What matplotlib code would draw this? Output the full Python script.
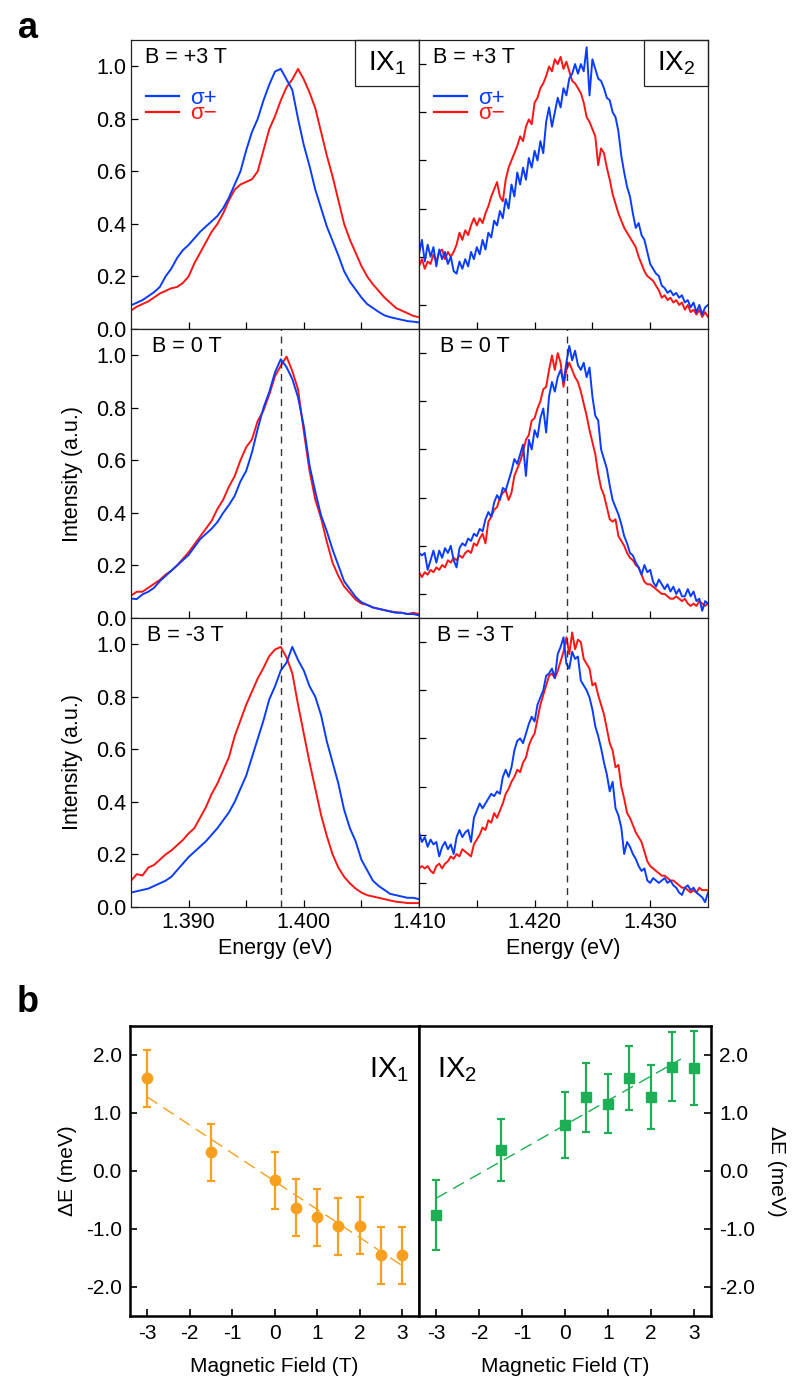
import matplotlib.pyplot as plt
import numpy as np
from matplotlib.patches import Rectangle

plt.rcParams["font.family"] = ["Liberation Sans", "DejaVu Sans"]
plt.rcParams["mathtext.fontset"] = "custom"
plt.rcParams["mathtext.rm"] = "Liberation Sans"
plt.rcParams["axes.unicode_minus"] = False

BLUE = "#0a3cff"
RED = "#ff1414"
ORANGE = "#f7a01e"
GREEN = "#1eae55"

# ---- panel a: PL spectra (0.5 meV grid for IX1, 0.25 meV grid for IX2) ----
IX1_E0, IX1_E1, IX1_N = 1.385, 1.410, 51
IX2_E0, IX2_E1, IX2_N = 1.410, 1.435, 101
IX1_CENTER = 1.3980
IX2_CENTER = 1.4228

IX1_P3_PLUS = [0.09, 0.10, 0.11, 0.125, 0.14, 0.16, 0.20, 0.23, 0.27, 0.30,
               0.32, 0.345, 0.37, 0.39, 0.41, 0.43, 0.46, 0.50, 0.55, 0.60,
               0.68, 0.75, 0.80, 0.87, 0.93, 0.98, 0.99, 0.95, 0.91, 0.80,
               0.70, 0.62, 0.53, 0.46, 0.39, 0.335, 0.28, 0.22, 0.18, 0.15,
               0.12, 0.095, 0.08, 0.065, 0.052, 0.045, 0.04, 0.035, 0.03, 0.028,
               0.025]
IX1_P3_MINUS = [0.07, 0.085, 0.095, 0.105, 0.12, 0.135, 0.145, 0.155, 0.16, 0.175,
                0.20, 0.25, 0.29, 0.33, 0.37, 0.40, 0.44, 0.49, 0.53, 0.55,
                0.56, 0.57, 0.60, 0.68, 0.76, 0.81, 0.87, 0.92, 0.95, 0.99,
                0.95, 0.90, 0.84, 0.75, 0.66, 0.58, 0.49, 0.40, 0.34, 0.29,
                0.24, 0.20, 0.17, 0.145, 0.12, 0.10, 0.08, 0.07, 0.06, 0.05,
                0.045]
IX1_0_PLUS = [0.074, 0.072, 0.09, 0.10, 0.115, 0.14, 0.16, 0.18, 0.20, 0.22,
              0.24, 0.27, 0.30, 0.32, 0.34, 0.365, 0.40, 0.43, 0.465, 0.52,
              0.56, 0.63, 0.72, 0.80, 0.86, 0.935, 0.985, 0.955, 0.91, 0.84,
              0.73, 0.58, 0.48, 0.39, 0.33, 0.26, 0.20, 0.14, 0.11, 0.08,
              0.06, 0.05, 0.04, 0.035, 0.03, 0.025, 0.02, 0.02, 0.015, 0.015,
              0.01]
IX1_0_MINUS = [0.085, 0.10, 0.10, 0.115, 0.13, 0.145, 0.165, 0.18, 0.20, 0.225,
               0.25, 0.28, 0.31, 0.34, 0.37, 0.415, 0.45, 0.50, 0.54, 0.60,
               0.65, 0.68, 0.75, 0.79, 0.85, 0.92, 0.96, 0.995, 0.94, 0.87,
               0.71, 0.56, 0.45, 0.38, 0.29, 0.21, 0.16, 0.12, 0.095, 0.07,
               0.055, 0.05, 0.04, 0.035, 0.03, 0.025, 0.022, 0.02, 0.015, 0.02,
               0.015]
IX1_M3_PLUS = [0.055, 0.06, 0.065, 0.07, 0.08, 0.09, 0.10, 0.115, 0.14, 0.165,
               0.19, 0.21, 0.23, 0.25, 0.275, 0.30, 0.33, 0.36, 0.40, 0.45,
               0.50, 0.57, 0.64, 0.71, 0.79, 0.84, 0.90, 0.93, 0.99, 0.94,
               0.90, 0.84, 0.80, 0.73, 0.63, 0.55, 0.47, 0.37, 0.30, 0.25,
               0.18, 0.14, 0.10, 0.08, 0.065, 0.05, 0.045, 0.04, 0.035, 0.035,
               0.03]
IX1_M3_MINUS = [0.10, 0.125, 0.12, 0.15, 0.16, 0.18, 0.20, 0.215, 0.235, 0.255,
                0.28, 0.30, 0.34, 0.38, 0.43, 0.47, 0.52, 0.57, 0.65, 0.71,
                0.77, 0.82, 0.87, 0.91, 0.955, 0.98, 0.99, 0.95, 0.89, 0.77,
                0.66, 0.55, 0.45, 0.35, 0.27, 0.20, 0.15, 0.115, 0.09, 0.07,
                0.055, 0.045, 0.04, 0.035, 0.03, 0.025, 0.02, 0.018, 0.015, 0.015,
                0.015]

IX2_P3_PLUS = [0.21, 0.27, 0.18, 0.25, 0.20, 0.24, 0.16, 0.23, 0.19, 0.22,
               0.17, 0.20, 0.14, 0.13, 0.18, 0.15, 0.19, 0.16, 0.22, 0.19,
               0.24, 0.21, 0.27, 0.23, 0.30, 0.28, 0.35, 0.33, 0.39, 0.36,
               0.44, 0.40, 0.50, 0.45, 0.55, 0.50, 0.57, 0.52, 0.61, 0.57,
               0.64, 0.60, 0.68, 0.63, 0.76, 0.82, 0.74, 0.80, 0.86, 0.82,
               0.90, 0.87, 0.94, 0.96, 1.00, 0.96, 1.00, 0.97, 1.07, 0.87,
               1.02, 0.98, 0.94, 0.93, 0.90, 0.86, 0.85, 0.80, 0.78, 0.72,
               0.62, 0.55, 0.49, 0.45, 0.38, 0.32, 0.34, 0.29, 0.27, 0.22,
               0.17, 0.15, 0.13, 0.12, 0.08, 0.07, 0.05, 0.06, 0.04, 0.05,
               0.03, 0.04, 0.01, 0.02, -0.01, 0.01, -0.03, 0.00, -0.04, -0.01,
               0.00]
IX2_P3_MINUS = [0.16, 0.19, 0.15, 0.18, 0.17, 0.21, 0.18, 0.22, 0.23, 0.19,
                0.22, 0.20, 0.22, 0.25, 0.30, 0.27, 0.31, 0.29, 0.33, 0.36,
                0.33, 0.36, 0.34, 0.38, 0.41, 0.45, 0.48, 0.51, 0.45, 0.43,
                0.52, 0.57, 0.60, 0.63, 0.66, 0.70, 0.68, 0.74, 0.77, 0.75,
                0.84, 0.86, 0.90, 0.92, 0.95, 0.99, 0.97, 1.02, 1.00, 1.03,
                0.98, 1.01, 0.97, 0.93, 0.92, 0.90, 0.88, 0.84, 0.78, 0.76,
                0.73, 0.70, 0.58, 0.65, 0.63, 0.57, 0.52, 0.46, 0.42, 0.38,
                0.35, 0.32, 0.30, 0.28, 0.26, 0.24, 0.20, 0.17, 0.14, 0.12,
                0.11, 0.10, 0.08, 0.06, 0.03, 0.04, 0.02, 0.03, 0.01, 0.02,
                0.00, 0.01, -0.02, 0.00, -0.03, -0.02, -0.04, -0.02, -0.05, -0.03,
                -0.05]
IX2_0_PLUS = [0.17, 0.16, 0.17, 0.10, 0.14, 0.18, 0.13, 0.18, 0.15, 0.19,
              0.17, 0.20, 0.14, 0.11, 0.19, 0.21, 0.20, 0.23, 0.22, 0.25,
              0.24, 0.27, 0.26, 0.31, 0.34, 0.32, 0.38, 0.41, 0.39, 0.44,
              0.43, 0.47, 0.51, 0.56, 0.54, 0.58, 0.62, 0.49, 0.64, 0.60,
              0.68, 0.65, 0.73, 0.77, 0.67, 0.82, 0.88, 0.84, 0.90, 0.93,
              0.88, 0.96, 1.03, 0.97, 1.01, 0.95, 0.93, 0.96, 0.90, 0.94,
              0.82, 0.74, 0.72, 0.60, 0.56, 0.52, 0.45, 0.39, 0.36, 0.33,
              0.29, 0.24, 0.21, 0.17, 0.16, 0.13, 0.11, 0.08, 0.12, 0.09,
              0.10, 0.05, 0.03, 0.06, 0.04, 0.02, 0.04, 0.01, 0.03, 0.00,
              0.02, -0.01, -0.01, 0.02, -0.01, 0.01, -0.03, -0.02, -0.07, -0.03,
              -0.04]
IX2_0_MINUS = [0.09, 0.07, 0.09, 0.08, 0.10, 0.09, 0.11, 0.10, 0.12, 0.11,
               0.14, 0.13, 0.15, 0.14, 0.16, 0.15, 0.17, 0.18, 0.17, 0.21,
               0.20, 0.23, 0.25, 0.21, 0.30, 0.32, 0.35, 0.36, 0.40, 0.42,
               0.43, 0.39, 0.42, 0.49, 0.52, 0.55, 0.59, 0.64, 0.66, 0.72,
               0.73, 0.77, 0.80, 0.85, 0.86, 0.93, 0.99, 0.93, 1.00, 0.96,
               0.86, 0.93, 0.96, 0.93, 0.90, 0.88, 0.84, 0.79, 0.74, 0.68,
               0.63, 0.58, 0.50, 0.44, 0.41, 0.36, 0.31, 0.30, 0.31, 0.24,
               0.22, 0.20, 0.17, 0.15, 0.14, 0.12, 0.11, 0.08, 0.05, 0.04,
               0.04, 0.03, 0.02, 0.01, 0.00, 0.00, -0.01, -0.02, -0.02, -0.01,
               -0.02, -0.03, -0.02, -0.04, -0.05, -0.04, -0.05, -0.03, -0.04, -0.05,
               -0.04]
IX2_M3_PLUS = [0.21, 0.17, 0.19, 0.15, 0.18, 0.16, 0.17, 0.11, 0.15, 0.17,
               0.14, 0.16, 0.12, 0.19, 0.22, 0.19, 0.21, 0.22, 0.17, 0.27,
               0.30, 0.33, 0.31, 0.33, 0.35, 0.37, 0.36, 0.38, 0.37, 0.44,
               0.47, 0.44, 0.48, 0.55, 0.59, 0.60, 0.58, 0.62, 0.66, 0.69,
               0.67, 0.74, 0.77, 0.80, 0.86, 0.87, 0.89, 0.85, 0.95, 0.98,
               1.02, 0.91, 0.89, 0.96, 0.93, 0.94, 0.84, 0.82, 0.80, 0.77,
               0.72, 0.65, 0.61, 0.56, 0.50, 0.45, 0.38, 0.42, 0.31, 0.28,
               0.23, 0.12, 0.17, 0.15, 0.12, 0.10, 0.07, 0.05, 0.06, 0.01,
               0.00, 0.02, 0.01, 0.00, 0.01, 0.02, 0.00, 0.01, -0.01, -0.02,
               -0.04, -0.05, -0.02, -0.01, -0.03, -0.02, -0.04, -0.05, -0.06, -0.08,
               -0.04]
IX2_M3_MINUS = [0.06, 0.07, 0.06, 0.07, 0.05, 0.04, 0.07, 0.08, 0.06, 0.08,
                0.09, 0.11, 0.10, 0.12, 0.11, 0.14, 0.13, 0.12, 0.11, 0.16,
                0.18, 0.20, 0.23, 0.22, 0.26, 0.25, 0.29, 0.27, 0.30, 0.33,
                0.37, 0.39, 0.42, 0.44, 0.47, 0.46, 0.50, 0.52, 0.57, 0.60,
                0.62, 0.68, 0.74, 0.78, 0.82, 0.86, 0.87, 0.85, 0.88, 0.92,
                0.96, 1.02, 0.95, 1.04, 0.97, 1.01, 1.00, 0.93, 0.91, 0.89,
                0.82, 0.83, 0.78, 0.74, 0.70, 0.64, 0.58, 0.55, 0.48, 0.49,
                0.40, 0.35, 0.29, 0.27, 0.24, 0.21, 0.19, 0.17, 0.13, 0.09,
                0.07, 0.06, 0.05, 0.04, 0.03, 0.03, 0.02, 0.01, 0.01, 0.00,
                -0.01, -0.02, -0.02, -0.03, -0.04, -0.03, -0.04, -0.02, -0.03, -0.03,
                -0.03]

FIELD_LABELS = ["B = +3 T", "B = 0 T", "B = -3 T"]

# ---- panel b: Zeeman splitting ----
FIELD_T = [-3, -1.5, 0, 0.5, 1, 1.5, 2, 2.5, 3]
IX1_DE = [1.60, 0.32, -0.16, -0.63, -0.80, -0.95, -0.94, -1.45, -1.45]
IX1_ERR = [0.49, 0.49, 0.49, 0.49, 0.49, 0.49, 0.49, 0.49, 0.49]
IX2_DE = [-0.76, 0.36, 0.80, 1.27, 1.16, 1.60, 1.28, 1.80, 1.78]
IX2_ERR = [0.60, 0.54, 0.57, 0.60, 0.51, 0.55, 0.55, 0.60, 0.64]
IX1_FIT_B = [-3.0, 3.0]
IX1_FIT_DE = [1.28, -1.63]
IX2_FIT_B = [-3.0, 2.7]
IX2_FIT_DE = [-0.47, 1.93]

W, H = 800, 1397
fig = plt.figure(figsize=(W / 100, H / 100), dpi=100)


def _axes_px(left, top, right, bottom):
    return fig.add_axes([left / W, 1 - bottom / H, (right - left) / W, (bottom - top) / H])


def _spectrum(ax, energy, plus, minus, left_col, row):
    ax.plot(energy, minus, color=RED, lw=1.4, label="σ−")
    ax.plot(energy, plus, color=BLUE, lw=1.4, label="σ+")
    for s in ax.spines.values():
        s.set_color("#222222")
        s.set_linewidth(0.9)
    ax.tick_params(direction="in", length=5, width=0.9, labelsize=15.5, which="both",
                   top=False, right=False)
    ax.set_yticks([0.0, 0.2, 0.4, 0.6, 0.8, 1.0])
    if left_col:
        ax.set_xlim(IX1_E0, IX1_E1)
        ax.set_ylim(0.0, 1.1)
        ax.set_xticks([1.390, 1.400, 1.410])
        ax.set_xticks([1.395, 1.405], minor=True)
        ax.yaxis.set_major_formatter(plt.FormatStrFormatter("%.1f"))
    else:
        ax.set_xlim(IX2_E0, IX2_E1)
        ax.set_ylim(-0.1, 1.1)
        ax.set_xticks([1.420, 1.430])
        ax.set_xticks([1.415, 1.425], minor=True)
        ax.set_yticklabels([])
    ax.xaxis.set_major_formatter(plt.FormatStrFormatter("%.3f"))
    if row < 2:
        ax.set_xticklabels([])
    else:
        ax.set_xlabel("Energy (eV)", fontsize=15.5, labelpad=4)
    if row > 0:
        ax.axvline(IX1_CENTER if left_col else IX2_CENTER, color="#333333",
                   lw=1.0, ls=(0, (5, 4)))
        if left_col:
            ax.set_ylabel("Intensity (a.u.)", fontsize=15.5, labelpad=9)
    bx = [0.048, 0.073, 0.055][row] if left_col else [0.048, 0.073, 0.062][row]
    ax.text(bx, 0.94, FIELD_LABELS[row], transform=ax.transAxes, fontsize=15.5,
            ha="left", va="center")
    if row == 0:
        ax.add_patch(Rectangle((0.778, 0.84), 0.222, 0.16, transform=ax.transAxes,
                               fill=False, ec="#222222", lw=0.9, clip_on=False))
        ax.text(0.889, 0.92, "IX$_1$" if left_col else "IX$_2$",
                transform=ax.transAxes, fontsize=20, ha="center", va="center")
        handles, labels = ax.get_legend_handles_labels()
        leg = ax.legend(handles[::-1], labels[::-1], loc="upper left",
                        bbox_to_anchor=(0.02, 0.865), frameon=False, fontsize=16,
                        handlelength=1.5, handletextpad=0.5, labelspacing=-0.25,
                        borderaxespad=0.0, labelcolor="linecolor")
        for line in leg.get_lines():
            line.set_linewidth(1.6)


ix1_energy = np.linspace(IX1_E0, IX1_E1, IX1_N)
ix2_energy = np.linspace(IX2_E0, IX2_E1, IX2_N)
ix1_sets = [(IX1_P3_PLUS, IX1_P3_MINUS), (IX1_0_PLUS, IX1_0_MINUS), (IX1_M3_PLUS, IX1_M3_MINUS)]
ix2_sets = [(IX2_P3_PLUS, IX2_P3_MINUS), (IX2_0_PLUS, IX2_0_MINUS), (IX2_M3_PLUS, IX2_M3_MINUS)]

row_tops = [40, 329, 618]
for row, top in enumerate(row_tops):
    ax_l = _axes_px(131, top, 419, top + 289)
    _spectrum(ax_l, ix1_energy, *ix1_sets[row], left_col=True, row=row)
    ax_r = _axes_px(419, top, 708, top + 289)
    _spectrum(ax_r, ix2_energy, *ix2_sets[row], left_col=False, row=row)


# ---- panel b ----
def _zeeman(ax, de, err, fit_b, fit_de, color, marker, ms, label, right):
    ax.plot(fit_b, fit_de, color=color, lw=1.0, ls=(0, (9, 5)))
    ax.errorbar(FIELD_T, de, yerr=err, fmt=marker, color=color, ms=ms,
                elinewidth=1.6, capsize=3, capthick=1.6)
    ax.set_xlim(-3.4, 3.4)
    ax.set_ylim(-2.5, 2.5)
    ax.set_xticks([-3, -2, -1, 0, 1, 2, 3])
    ax.set_yticks([-2.0, -1.0, 0.0, 1.0, 2.0])
    ax.yaxis.set_major_formatter(plt.FormatStrFormatter("%.1f"))
    for s in ax.spines.values():
        s.set_linewidth(1.8)
        s.set_color("black")
    ax.tick_params(direction="in", length=5, width=1.2, labelsize=15, pad=6)
    ax.set_xlabel("Magnetic Field (T)", fontsize=15, labelpad=10)
    if right:
        ax.yaxis.tick_right()
        ax.yaxis.set_label_position("right")
        ax.tick_params(left=False, right=True, direction="in")
        ax.set_ylabel("ΔE (meV)", fontsize=15, rotation=270, labelpad=22)
        ax.text(0.06, 0.85, label, transform=ax.transAxes, fontsize=21,
                ha="left", va="center")
    else:
        ax.set_ylabel("ΔE (meV)", fontsize=15, labelpad=6)
        ax.text(0.965, 0.85, label, transform=ax.transAxes, fontsize=21,
                ha="right", va="center")


ax_b1 = _axes_px(130, 1026, 419, 1316)
_zeeman(ax_b1, IX1_DE, IX1_ERR, IX1_FIT_B, IX1_FIT_DE, ORANGE, "o", 7.5, "IX$_1$", False)
ax_b2 = _axes_px(419, 1026, 711, 1316)
_zeeman(ax_b2, IX2_DE, IX2_ERR, IX2_FIT_B, IX2_FIT_DE, GREEN, "s", 7, "IX$_2$", True)

fig.text(28 / W, 1 - 28 / H, "a", fontsize=26, fontweight="bold", ha="center", va="center")
fig.text(28 / W, 1 - 1003 / H, "b", fontsize=26, fontweight="bold", ha="center", va="center")

fig.savefig("out.png", dpi=100)
